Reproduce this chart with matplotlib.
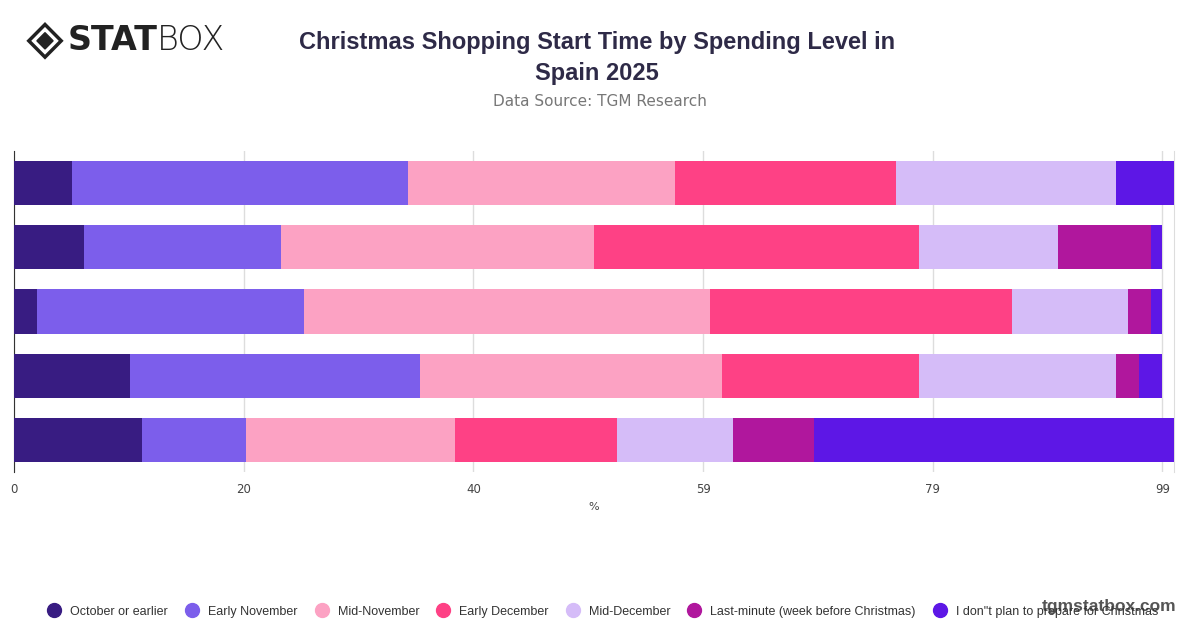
import numpy as np
import matplotlib.pyplot as plt
from matplotlib.lines import Line2D
from matplotlib.patches import Polygon

# Series (percent), one value per spending level, top row first
series = ['October or earlier', 'Early November', 'Mid-November', 'Early December',
          'Mid-December', 'Last-minute (week before Christmas)', 'I don\"t plan to prepare for Christmas']
october = [5, 6, 2, 10, 11]
early_nov = [29, 17, 23, 25, 9]
mid_nov = [23, 27, 35, 26, 18]
early_dec = [19, 28, 26, 17, 14]
mid_dec = [19, 12, 10, 17, 10]
last_minute = [0, 8, 2, 2, 7]
no_plan = [5, 1, 1, 2, 31]
colors = ['#381c82', '#7c5eeb', '#fca2c3', '#fe4185', '#d5bcf8', '#b0179d', '#5d17e6']

values = [october, early_nov, mid_nov, early_dec, mid_dec, last_minute, no_plan]
rows = np.arange(len(october))

fig = plt.figure(figsize=(12, 6.28), dpi=100)
ax = fig.add_axes([0.0118, 0.2484, 0.9665, 0.5112])

left = np.zeros(len(rows))
for vals, col in zip(values, colors):
    ax.barh(rows, vals, left=left, height=0.69, color=col, edgecolor='none', zorder=3)
    left += np.array(vals)

ax.set_ylim(len(rows) - 0.5, -0.5)
ax.set_xlim(0, 100)
ticks = np.linspace(0, 99, 6)
ax.set_xticks(ticks)
ax.set_xticklabels([str(round(t)) for t in ticks], fontsize=8.5, color='#444444')
ax.set_yticks([])
ax.tick_params(axis='x', length=0, pad=8)
ax.grid(axis='x', color='#dddddd', linewidth=1, zorder=0)
for s in ['top', 'bottom']:
    ax.spines[s].set_visible(False)
ax.spines['right'].set_color('#dddddd')
ax.spines['left'].set_color('#333333')
ax.spines['left'].set_linewidth(0.8)
ax.set_xlabel('%', fontsize=8, color='#444444', labelpad=4)

# Titles
fig.text(0.4975, 0.951, 'Christmas Shopping Start Time by Spending Level in\nSpain 2025',
         ha='center', va='top', fontsize=17, fontweight='bold', color='#2e2a47', linespacing=1.45,
         family='Liberation Sans')
fig.text(0.5, 0.838, 'Data Source: TGM Research', ha='center', va='center', fontsize=11, color='#777777')

# Logo
lx, ly = 0.0375, 0.935
w, h = 0.0135, 0.026
fig.patches.append(Polygon([[lx - w, ly], [lx, ly + h], [lx + w, ly], [lx, ly - h]], closed=True,
                           fill=False, edgecolor='#222222', linewidth=2.5, transform=fig.transFigure))
fig.patches.append(Polygon([[lx - w * 0.5, ly], [lx, ly + h * 0.5], [lx + w * 0.5, ly], [lx, ly - h * 0.5]],
                           closed=True, color='#222222', transform=fig.transFigure))
t1 = fig.text(0.056, ly, 'STAT', ha='left', va='center', fontsize=24, fontweight='heavy', color='#222222')
fig.canvas.draw()
bb = t1.get_window_extent().transformed(fig.transFigure.inverted())
fig.text(bb.x1, ly, 'BOX', ha='left', va='center', fontsize=24, fontweight='light', color='#222222')

# Legend
handles = [Line2D([0], [0], marker='o', linestyle='none', markersize=10,
                  markerfacecolor=c, markeredgecolor=c) for c in colors]
fig.legend(handles, series, loc='center', bbox_to_anchor=(0.5, 0.026), ncol=7, frameon=False,
           prop={'family': 'Liberation Sans', 'size': 9}, handletextpad=0.3, columnspacing=0.9,
           labelcolor='#333333')

fig.text(0.98, 0.035, 'tgmstatbox.com', ha='right', va='center', fontsize=12.5,
         fontweight='bold', color='#555555', family='Liberation Sans')

fig.savefig('out.png', dpi=100)
